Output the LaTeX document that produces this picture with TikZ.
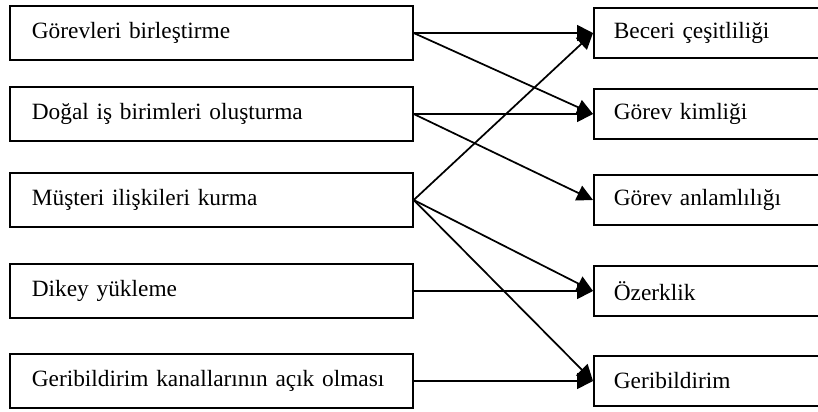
\documentclass[tikz,border=0pt]{standalone}
\usepackage{fontspec}
\setmainfont{Liberation Serif}
\usetikzlibrary{arrows.meta}
\tikzset{
	solkutu/.style={draw,line width=1.3pt,anchor=west,minimum height=40pt,
		inner xsep=16.5pt,inner ysep=0pt,text width=269.25pt,align=left,
		font=\fontsize{17.5}{20}\selectfont},
	sagkutu/.style={draw,line width=1.3pt,anchor=west,minimum height=37.5pt,
		inner xsep=15pt,inner ysep=0pt,text width=155pt,align=left,
		font=\fontsize{17.5}{20}\selectfont},
	ok/.style={line width=1.3pt,-{Triangle[length=12pt,width=12pt]}}
}
\begin{document}
\begin{tikzpicture}[x=0.75pt,y=-0.75pt]
				\useasboundingbox (0,0) rectangle (818,411);
				\clip (0,0) rectangle (818,411); % Right boxes run off the page
				
				% Left column: the job design methods
				\node (L1) at (9,33)  [solkutu]{Görevleri birleştirme};
				\node (L2) at (9,114) [solkutu]{Doğal iş birimleri oluşturma};
				\node (L3) at (9,200) [solkutu]{Müşteri ilişkileri kurma};
				\node (L4) at (9,291) [solkutu]{Dikey yükleme};
				\node (L5) at (9,381) [solkutu]{Geribildirim kanallarının açık olması};
				
				% Right column: the job characteristics
				\node (R1) at (593,33)  [sagkutu]{Beceri çeşitliliği};
				\node (R2) at (593,114) [sagkutu]{Görev kimliği};
				\node (R3) at (593,200) [sagkutu]{Görev anlamlılığı};
				\node (R4) at (593,291) [sagkutu]{Özerklik};
				\node (R5) at (593,381) [sagkutu]{Geribildirim};
				
				\foreach \a/\b in {L1/R1,L1/R2,L2/R2,L2/R3,L3/R1,L3/R4,L3/R5,L4/R4,L5/R5}{% One arrow
					\draw [ok] (\a.east) -- (\b.west);% for each link
				}
				
		\end{tikzpicture}
\end{document}
